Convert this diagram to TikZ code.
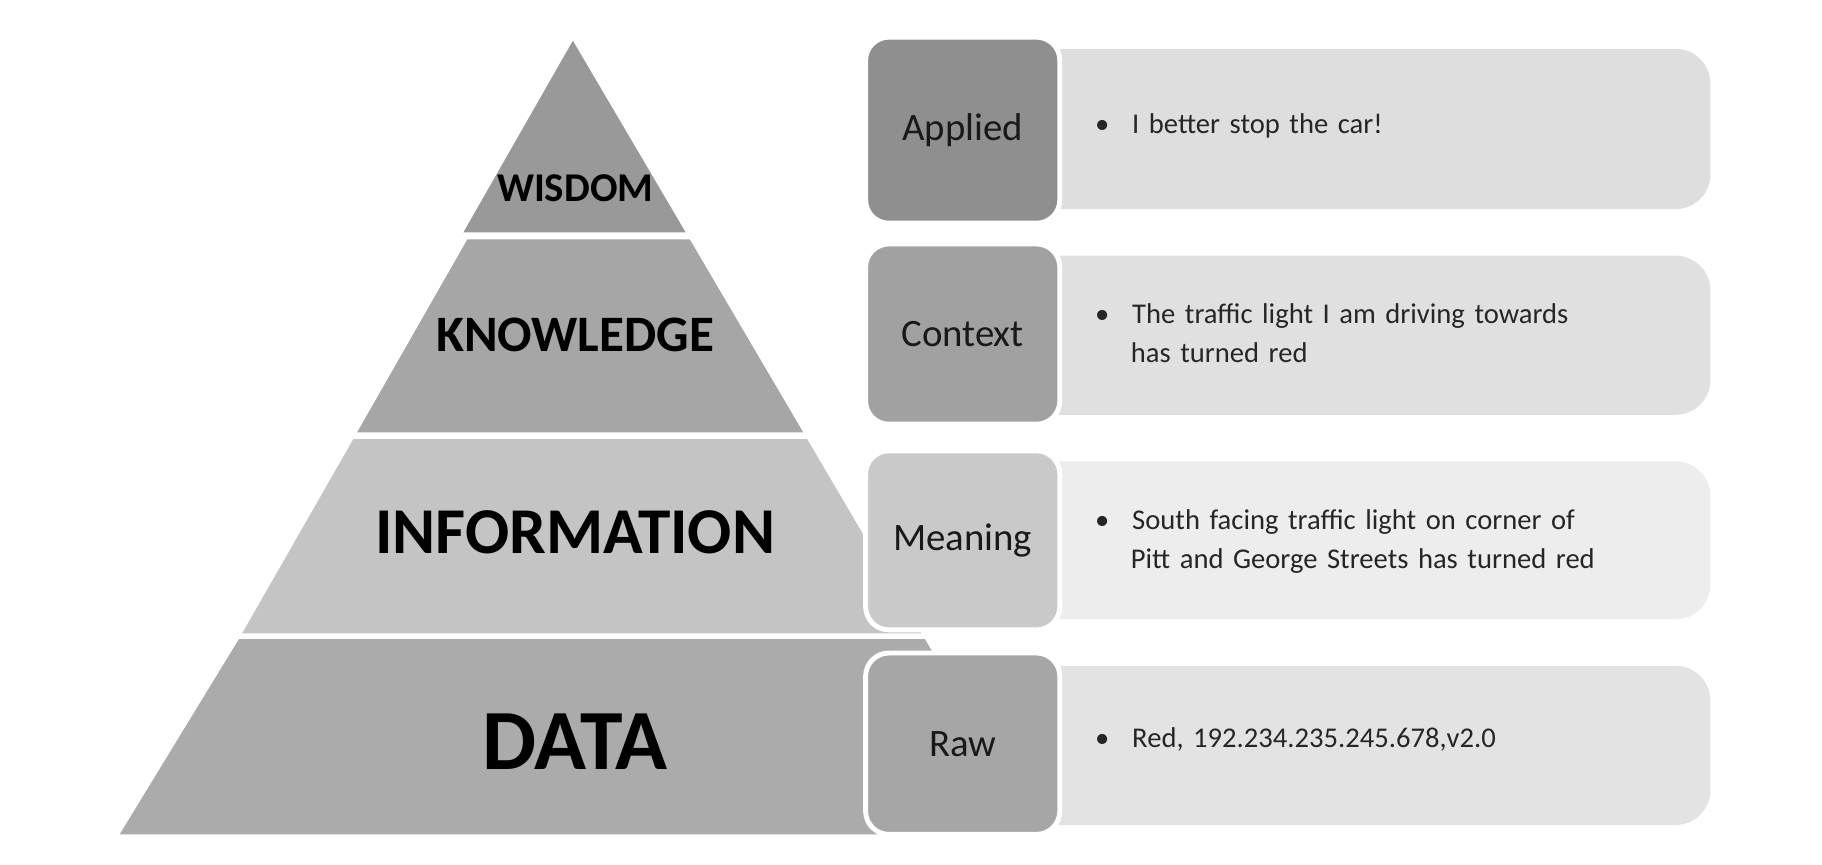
\documentclass[tikz,border=0pt]{standalone}
\usepackage{fontspec}
\setmainfont{Carlito}
\begin{document}
\begin{tikzpicture}[x=0.01cm,y=-0.01cm,
  lbox/.style={draw=white,line width=1.2pt,rounded corners=0.2cm},
  rbox/.style={rounded corners=0.3cm},
  lab/.style={font=\fontsize{9.5}{11}\selectfont,text=black!90},
  txt/.style={font=\fontsize{7}{9.5}\selectfont,text=black!85,align=left,anchor=west,text width=5.1cm}]
\useasboundingbox (0,0) rectangle (1568,744);
% pyramid bands
\fill[fill=black!40] (493,35) -- (590.1,200) -- (398.8,200) -- cycle;
\fill[fill=black!35] (402.2,206) -- (593.6,206) -- (691.2,372) -- (307.4,372) -- cycle;
\fill[fill=black!23] (304,378) -- (694.7,378) -- (793,545) -- (208.4,545) -- cycle;
\fill[fill=black!33] (205.6,550) -- (796,550) -- (894,718) -- (103,718) -- cycle;
% right boxes
\fill[rbox,black!13] (880,42) rectangle (1472,180);
\fill[rbox,black!12] (880,220) rectangle (1472,357);
\fill[rbox,black!7] (880,397) rectangle (1472,533);
\fill[rbox,black!11] (880,573) rectangle (1472,710);
% left boxes
\node[lbox,fill=black!44,minimum width=1.67cm,minimum height=1.6cm,lab] (ap) at (828.5,112) {Applied};
\node[lbox,fill=black!37,minimum width=1.67cm,minimum height=1.55cm,lab] (co) at (828.5,287.5) {Context};
\node[lbox,fill=black!21,minimum width=1.67cm,minimum height=1.54cm,lab] (me) at (828.5,465) {Meaning};
\node[lbox,fill=black!35,minimum width=1.67cm,minimum height=1.56cm,lab] (ra) at (828.5,640) {Raw};
% pyramid labels
\node[font=\bfseries\fontsize{10}{12}\selectfont] (w) at (495,162) {WISDOM};
\node[font=\bfseries\fontsize{12.5}{14}\selectfont] (k) at (495,288) {KNOWLEDGE};
\node[font=\bfseries\fontsize{16}{18}\selectfont] (i) at (495,458) {INFORMATION};
\node[font=\bfseries\fontsize{21}{24}\selectfont] (d) at (495,638) {DATA};
% bullets
\node[txt] (t1) at (930,108) {\textbullet\hspace{0.8em}I better stop the car!};
\node[txt] (t2) at (930,287) {\textbullet\hspace{0.8em}The traffic light I am driving towards\\\hspace{1.25em}has turned red};
\node[txt] (t3) at (930,466) {\textbullet\hspace{0.8em}South facing traffic light on corner of\\\hspace{1.25em}Pitt and George Streets has turned red};
\node[txt] (t4) at (930,636) {\textbullet\hspace{0.8em}Red, 192.234.235.245.678,v2.0};
\end{tikzpicture}
\end{document}
